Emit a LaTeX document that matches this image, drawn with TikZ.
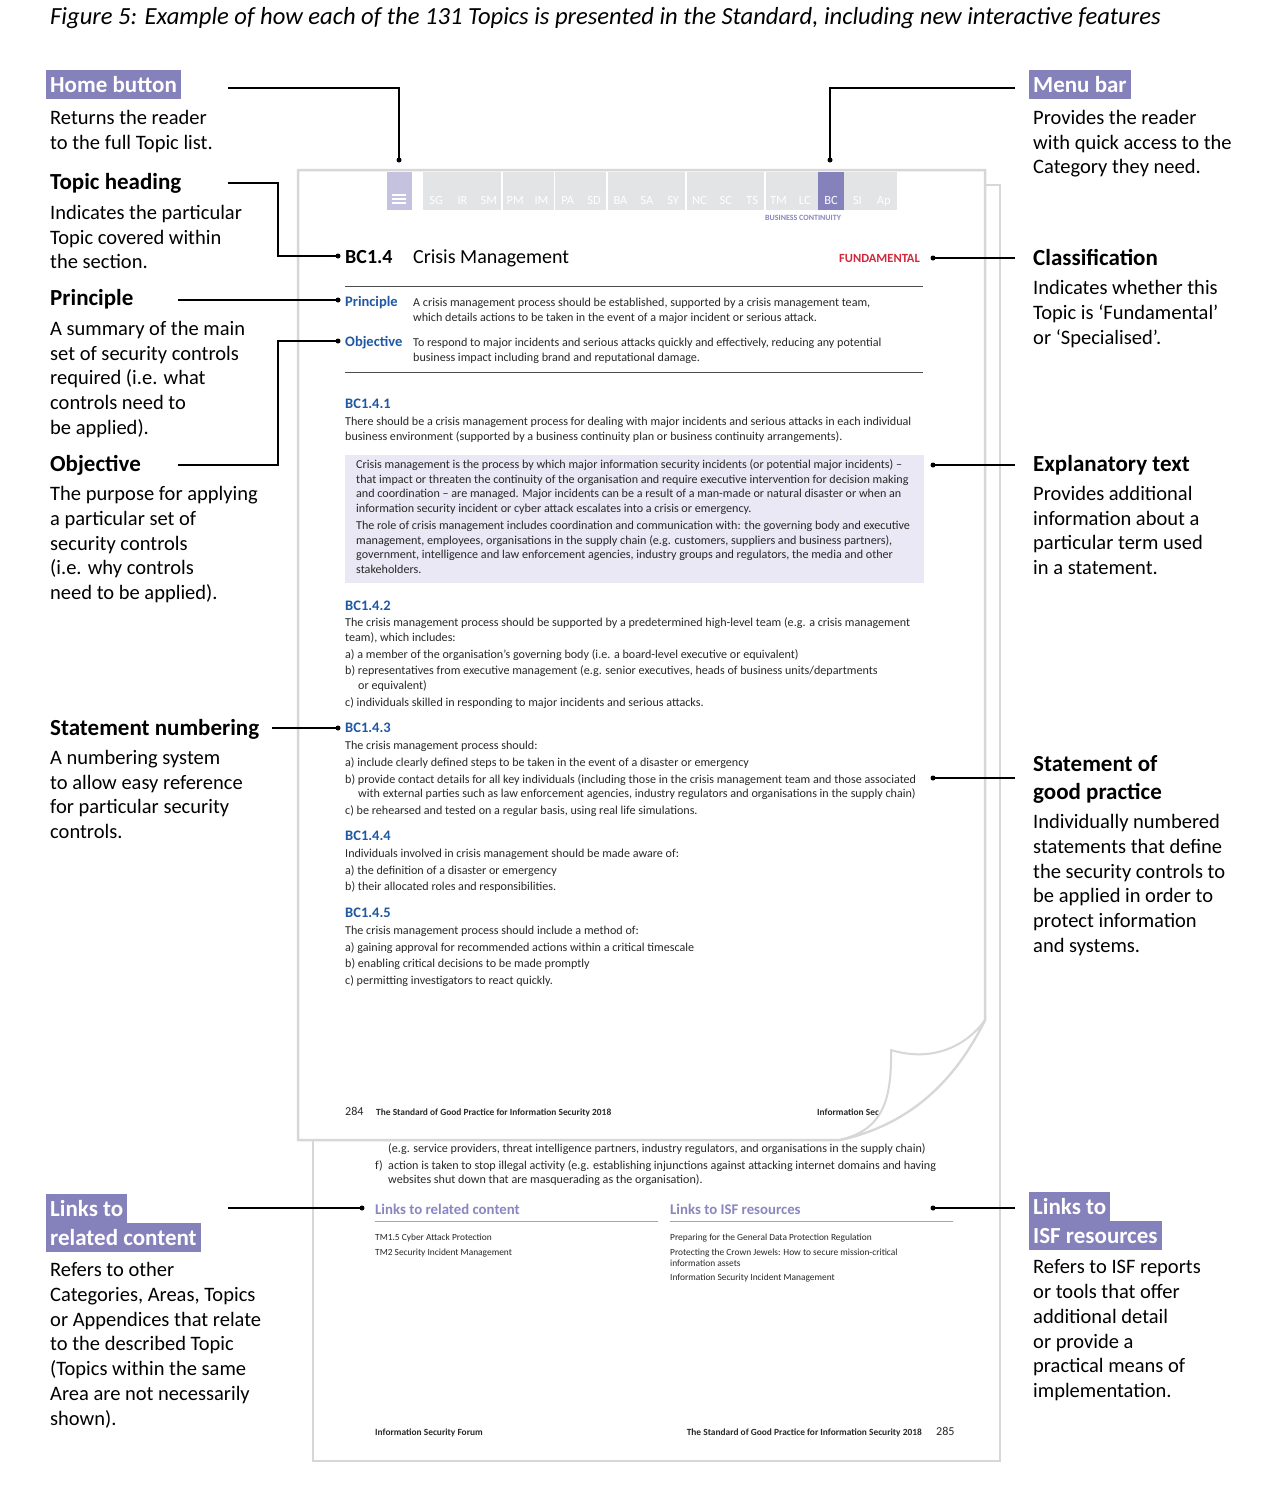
\documentclass[tikz,border=0pt]{standalone}
\usepackage{fontspec}
\setmainfont{Carlito}
\definecolor{hl}{RGB}{133,129,186}
\definecolor{lav}{RGB}{197,194,224}
\definecolor{mgray}{RGB}{227,228,230}
\definecolor{boxf}{RGB}{233,232,244}
\definecolor{blue1}{RGB}{30,88,164}
\definecolor{red1}{RGB}{210,40,60}
\definecolor{pgray}{RGB}{215,215,215}
\definecolor{txtc}{RGB}{40,40,40}
\definecolor{lpurp}{RGB}{138,134,192}
\newcounter{tn}
\newcommand\tx[3][]{\stepcounter{tn}\node[tb,#1] (tx\arabic{tn}) at (#2) {#3};}
\begin{document}
\begin{tikzpicture}[x=1pt,y=-1pt,
  tb/.style={anchor=base west, inner sep=0pt, text=txtc},
  lab/.style={text=black, font=\fontsize{20.5}{25}\selectfont},
  labh/.style={text=black, font=\bfseries\fontsize{23}{27}\selectfont},
  hlb/.style={anchor=base west, fill=hl, text=white, font=\bfseries\fontsize{23}{27}\selectfont, inner xsep=4pt, inner ysep=3pt, text height=19pt, text depth=4pt},
  body/.style={font=\fontsize{12.1}{14}\selectfont},
  bhead/.style={text=blue1, font=\bfseries\fontsize{14.5}{16}\selectfont},
  small/.style={font=\fontsize{9.4}{11}\selectfont},
  foot/.style={font=\bfseries\fontsize{9.4}{11}\selectfont},
  conn/.style={line width=1.2pt, black},
  dotc/.style={circle, fill=black, inner sep=0pt, minimum size=5pt},
  pageb/.style={draw=pgray, line width=2.5pt, fill=white},
  menuc/.style={anchor=base, text=white, font=\fontsize{12.5}{14}\selectfont}
]
\useasboundingbox[fill=white] (0,0) rectangle (1265,1489);

% title
\tx[font=\itshape\fontsize{24.6}{28}\selectfont, text=black]{50,24}{Figure 5: Example of how each of the 131 Topics is presented in the Standard, including new interactive features}

% ---------- second page (beneath) ----------
\draw[pageb] (313,185) rectangle (1000,1461);
\tx[body]{388,1152}{(e.g. service providers, threat intelligence partners, industry regulators, and organisations in the supply chain)}
\tx[body]{375,1169}{f)}
\tx[body]{388,1169}{action is taken to stop illegal activity (e.g. establishing injunctions against attacking internet domains and having}
\tx[body]{388,1183}{websites shut down that are masquerading as the organisation).}
\tx[text=lpurp, font=\bfseries\fontsize{14.8}{16}\selectfont]{375,1214}{Links to related content}
\tx[text=lpurp, font=\bfseries\fontsize{14.8}{16}\selectfont]{670,1214}{Links to ISF resources}
\draw[gray!70, line width=1pt] (375,1221) -- (658,1221) (670,1221) -- (953,1221);
\tx[small]{375,1240}{TM1.5 Cyber Attack Protection}
\tx[small]{375,1255}{TM2 Security Incident Management}
\tx[small]{670,1240}{Preparing for the General Data Protection Regulation}
\tx[small]{670,1255}{Protecting the Crown Jewels: How to secure mission-critical}
\tx[small]{670,1266}{information assets}
\tx[small]{670,1280}{Information Security Incident Management}
\tx[foot]{375,1435}{Information Security Forum}
\tx[foot, anchor=base east]{922,1435}{The Standard of Good Practice for Information Security 2018}
\tx[body]{936,1435}{285}

% ---------- first page ----------
\draw[pageb] (298,170) -- (985,170) -- (985,1020) .. controls (960,1070) and (920,1122) .. (840,1140) -- (298,1140) -- cycle;

% menu bar
\fill[lav] (387,172) rectangle (412,210);
\draw[white, line width=1.5pt] (392,195) -- (406,195) (392,199) -- (406,199) (392,203) -- (406,203);
\fill[mgray] (423,172) rectangle (897,210);
\fill[hl] (818,172) rectangle (844,210);
\foreach \xx in {502,554.5,607,686,765}{\draw[white, line width=1.5pt] (\xx,172) -- (\xx,210);}
\foreach \lbl [count=\i from 0] in {SG,IR,SM,PM,IM,PA,SD,BA,SA,SY,NC,SC,TS,TM,LC,BC,SI,Ap}{
  \node[menuc] (m\i) at ({423+26.33*(\i+0.5)},204) {\lbl};}
\tx[anchor=base, text=lpurp, font=\bfseries\fontsize{8}{9}\selectfont]{803,220}{BUSINESS CONTINUITY}

% heading
\tx[text=black, font=\bfseries\fontsize{20}{24}\selectfont]{345,263}{BC1.4}
\tx[text=black, font=\fontsize{20}{24}\selectfont]{413,263}{Crisis Management}
\tx[anchor=base east, text=red1, font=\bfseries\fontsize{12.5}{14}\selectfont]{920,262}{FUNDAMENTAL}
\draw[black!70, line width=1pt] (345,286) -- (923,286);
\tx[bhead]{345,306}{Principle}
\tx[body]{413,306}{A crisis management process should be established, supported by a crisis management team,}
\tx[body]{413,321}{which details actions to be taken in the event of a major incident or serious attack.}
\tx[bhead]{345,346}{Objective}
\tx[body]{413,346}{To respond to major incidents and serious attacks quickly and effectively, reducing any potential}
\tx[body]{413,361}{business impact including brand and reputational damage.}
\draw[black!70, line width=1pt] (345,372) -- (923,372);

\tx[bhead]{345,408}{BC1.4.1}
\tx[body]{345,425}{There should be a crisis management process for dealing with major incidents and serious attacks in each individual}
\tx[body]{345,440}{business environment (supported by a business continuity plan or business continuity arrangements).}
\fill[boxf] (345,455) rectangle (924,583);
\tx[body]{356,468}{Crisis management is the process by which major information security incidents (or potential major incidents) --}
\tx[body]{356,483}{that impact or threaten the continuity of the organisation and require executive intervention for decision making}
\tx[body]{356,497}{and coordination -- are managed. Major incidents can be a result of a man-made or natural disaster or when an}
\tx[body]{356,512}{information security incident or cyber attack escalates into a crisis or emergency.}
\tx[body]{356,529}{The role of crisis management includes coordination and communication with: the governing body and executive}
\tx[body]{356,544}{management, employees, organisations in the supply chain (e.g. customers, suppliers and business partners),}
\tx[body]{356,558}{government, intelligence and law enforcement agencies, industry groups and regulators, the media and other}
\tx[body]{356,573}{stakeholders.}

\tx[bhead]{345,610}{BC1.4.2}
\tx[body]{345,626}{The crisis management process should be supported by a predetermined high-level team (e.g. a crisis management}
\tx[body]{345,641}{team), which includes:}
\tx[body]{345,658}{a) a member of the organisation’s governing body (i.e. a board-level executive or equivalent)}
\tx[body]{345,674}{b) representatives from executive management (e.g. senior executives, heads of business units/departments}
\tx[body]{358,689}{or equivalent)}
\tx[body]{345,706}{c) individuals skilled in responding to major incidents and serious attacks.}

\tx[bhead]{345,732}{BC1.4.3}
\tx[body]{345,749}{The crisis management process should:}
\tx[body]{345,766}{a) include clearly defined steps to be taken in the event of a disaster or emergency}
\tx[body]{345,783}{b) provide contact details for all key individuals (including those in the crisis management team and those associated}
\tx[body]{358,797}{with external parties such as law enforcement agencies, industry regulators and organisations in the supply chain)}
\tx[body]{345,814}{c) be rehearsed and tested on a regular basis, using real life simulations.}

\tx[bhead]{345,840}{BC1.4.4}
\tx[body]{345,857}{Individuals involved in crisis management should be made aware of:}
\tx[body]{345,874}{a) the definition of a disaster or emergency}
\tx[body]{345,890}{b) their allocated roles and responsibilities.}

\tx[bhead]{345,917}{BC1.4.5}
\tx[body]{345,934}{The crisis management process should include a method of:}
\tx[body]{345,951}{a) gaining approval for recommended actions within a critical timescale}
\tx[body]{345,967}{b) enabling critical decisions to be made promptly}
\tx[body]{345,984}{c) permitting investigators to react quickly.}

\tx[body]{345,1115}{284}
\tx[foot]{376,1115}{The Standard of Good Practice for Information Security 2018}
\tx[foot]{817,1115}{Information Sec}

% page curl flap
\draw[draw=pgray, line width=2pt, fill=white, line join=round]
  (840,1140) .. controls (880,1130) and (892,1105) .. (891,1050)
  .. controls (930,1062) and (965,1048) .. (985,1020)
  .. controls (960,1070) and (920,1122) .. (840,1140) -- cycle;

% ---------- left labels ----------
\node[hlb] (homeH) at (46,92) {Home button};
\tx[lab]{50,124}{Returns the reader}
\tx[lab]{50,149}{to the full Topic list.}
\tx[labh]{50,189}{Topic heading}
\tx[lab]{50,219}{Indicates the particular}
\tx[lab]{50,244}{Topic covered within}
\tx[lab]{50,268}{the section.}
\tx[labh]{50,305}{Principle}
\tx[lab]{50,335}{A summary of the main}
\tx[lab]{50,360}{set of security controls}
\tx[lab]{50,384}{required (i.e. what}
\tx[lab]{50,409}{controls need to}
\tx[lab]{50,434}{be applied).}
\tx[labh]{50,471}{Objective}
\tx[lab]{50,500}{The purpose for applying}
\tx[lab]{50,525}{a particular set of}
\tx[lab]{50,550}{security controls}
\tx[lab]{50,574}{(i.e. why controls}
\tx[lab]{50,599}{need to be applied).}
\tx[labh]{50,735}{Statement numbering}
\tx[lab]{50,764}{A numbering system}
\tx[lab]{50,789}{to allow easy reference}
\tx[lab]{50,813}{for particular security}
\tx[lab]{50,838}{controls.}
\node[hlb] (lrcH1) at (46,1216) {Links to};
\node[hlb] (lrcH2) at (46,1245) {related content};
\tx[lab]{50,1276}{Refers to other}
\tx[lab]{50,1301}{Categories, Areas, Topics}
\tx[lab]{50,1326}{or Appendices that relate}
\tx[lab]{50,1350}{to the described Topic}
\tx[lab]{50,1375}{(Topics within the same}
\tx[lab]{50,1400}{Area are not necessarily}
\tx[lab]{50,1425}{shown).}

% ---------- right labels ----------
\node[hlb] (menuH) at (1029,92) {Menu bar};
\tx[lab]{1033,124}{Provides the reader}
\tx[lab]{1033,149}{with quick access to the}
\tx[lab]{1033,173}{Category they need.}
\tx[labh]{1033,265}{Classification}
\tx[lab]{1033,294}{Indicates whether this}
\tx[lab]{1033,319}{Topic is ‘Fundamental’}
\tx[lab]{1033,344}{or ‘Specialised’.}
\tx[labh]{1033,471}{Explanatory text}
\tx[lab]{1033,500}{Provides additional}
\tx[lab]{1033,525}{information about a}
\tx[lab]{1033,549}{particular term used}
\tx[lab]{1033,574}{in a statement.}
\tx[labh]{1033,771}{Statement of}
\tx[labh]{1033,799}{good practice}
\tx[lab]{1033,828}{Individually numbered}
\tx[lab]{1033,853}{statements that define}
\tx[lab]{1033,878}{the security controls to}
\tx[lab]{1033,902}{be applied in order to}
\tx[lab]{1033,927}{protect information}
\tx[lab]{1033,952}{and systems.}
\node[hlb] (isfH1) at (1029,1214) {Links to};
\node[hlb] (isfH2) at (1029,1243) {ISF resources};
\tx[lab]{1033,1273}{Refers to ISF reports}
\tx[lab]{1033,1298}{or tools that offer}
\tx[lab]{1033,1323}{additional detail}
\tx[lab]{1033,1348}{or provide a}
\tx[lab]{1033,1372}{practical means of}
\tx[lab]{1033,1397}{implementation.}

% ---------- connectors ----------
\coordinate (homeA) at (228,88);   \node[dotc] (homeD) at (399,160) {};
\coordinate (menuA) at (1015,88);  \node[dotc] (menuD) at (830,160) {};
\coordinate (topA) at (228,183);   \node[dotc] (topD) at (338,256) {};
\coordinate (prinA) at (178,300);  \node[dotc] (prinD) at (338,300) {};
\coordinate (objA) at (178,465);   \node[dotc] (objD) at (338,341) {};
\coordinate (numA) at (272,728);   \node[dotc] (numD) at (338,728) {};
\coordinate (clsA) at (1015,258);  \node[dotc] (clsD) at (933,258) {};
\coordinate (expA) at (1015,465);  \node[dotc] (expD) at (933,465) {};
\coordinate (sgpA) at (1015,778);  \node[dotc] (sgpD) at (933,778) {};
\coordinate (lrcA) at (228,1208);  \node[dotc] (lrcD) at (362,1208) {};
\coordinate (isfA) at (1015,1208); \node[dotc] (isfD) at (933,1208) {};
\draw[conn] (homeA) -| (homeD.center);
\draw[conn] (menuA) -| (menuD.center);
\draw[conn] (topA) -- ++(50,0) |- (topD.center);
\draw[conn] (prinA) -- (prinD.center);
\draw[conn] (objA) -- ++(100,0) |- (objD.center);
\draw[conn] (numA) -- (numD.center);
\draw[conn] (clsA) -- (clsD.center);
\draw[conn] (expA) -- (expD.center);
\draw[conn] (sgpA) -- (sgpD.center);
\draw[conn] (lrcA) -- (lrcD.center);
\draw[conn] (isfA) -- (isfD.center);
\end{tikzpicture}
\end{document}
